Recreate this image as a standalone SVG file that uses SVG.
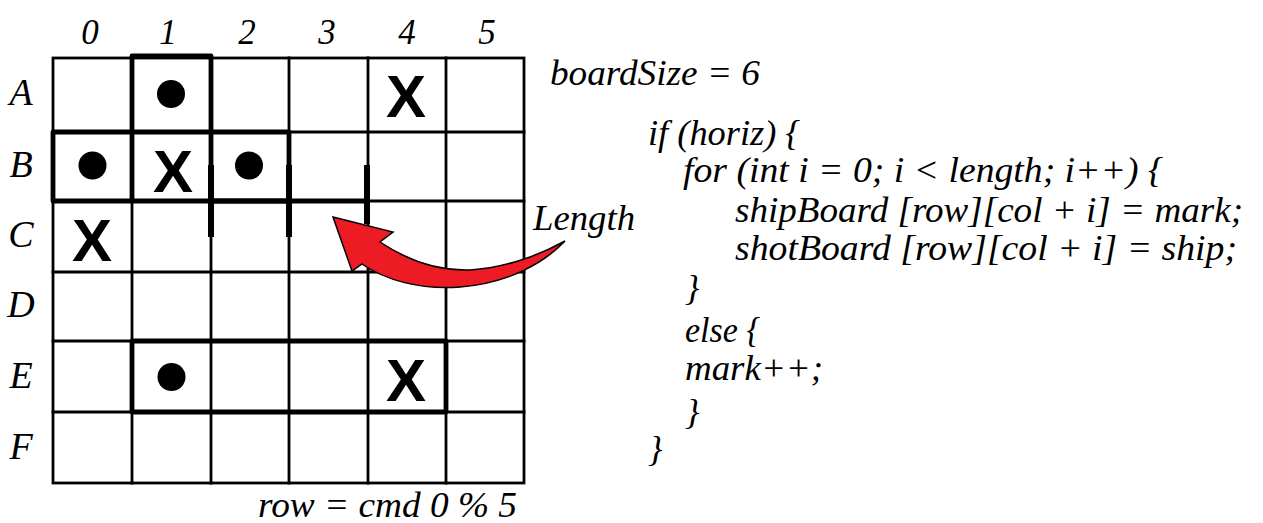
<svg xmlns="http://www.w3.org/2000/svg" width="1263" height="523" viewBox="0 0 1263 523">
<style>
.g{stroke:#000;stroke-width:2.8;fill:none;stroke-linecap:square}
.s{stroke:#000;stroke-width:4.8;fill:none;stroke-linejoin:round}
.t{stroke:#000;stroke-width:6;fill:none}
.x{font-family:'Liberation Sans',Arial,sans-serif;font-weight:bold;font-size:60px;fill:#000;text-anchor:middle}
</style>
<rect width="1263" height="523" fill="#fff"/>
<g id="grid">
<rect class="g" x="53" y="58" width="471" height="425"/>
<path class="g" d="M132,58V483M211,58V483M289,58V483M368,58V483M446,58V483M53,132H524M53,201H524M53,272H524M53,341H524M53,412H524"/>
</g>
<g id="ships">
<path class="s" d="M132,201V56H211V201"/>
<rect class="s" x="53" y="132" width="236" height="69"/>
<rect class="s" x="132" y="341" width="314" height="71"/>
</g>
<g id="length-marker">
<path class="t" d="M211,165V237M289,165V237M367,165V224"/>
<path class="s" d="M211,201H367"/>
</g>
<g id="markers">
<circle cx="171" cy="94" r="14"/>
<circle cx="92.5" cy="165.5" r="14"/>
<circle cx="249" cy="165.5" r="14"/>
<circle cx="171.5" cy="377" r="14"/>
<text class="x" x="406" y="117">X</text>
<text class="x" x="173" y="192">X</text>
<text class="x" x="92" y="261">X</text>
<text class="x" x="406" y="401">X</text>
</g>
<g fill="#000" font-family="'Liberation Serif', 'Times New Roman', serif" font-style="italic">
<g id="col-labels" font-size="35" text-anchor="middle">
<text x="90" y="44">0</text>
<text x="168" y="44">1</text>
<text x="247" y="44">2</text>
<text x="327" y="44">3</text>
<text x="407" y="44">4</text>
<text x="487" y="44">5</text>
</g>
<g id="row-labels" font-size="38" text-anchor="middle">
<text x="21" y="105">A</text>
<text x="21" y="177">B</text>
<text x="21" y="247">C</text>
<text x="21" y="317">D</text>
<text x="21" y="388">E</text>
<text x="21" y="459">F</text>
</g>
<g id="length-label">
<text font-size="35" x="533" y="230" textLength="102" lengthAdjust="spacingAndGlyphs">Length</text>
</g>
<g id="bottom-label">
<text font-size="36" x="258" y="517" textLength="259" lengthAdjust="spacingAndGlyphs">row = cmd 0 % 5</text>
</g>
<g id="code" font-size="36">
<text x="550" y="85" textLength="210" lengthAdjust="spacingAndGlyphs">boardSize = 6</text>
<text x="648" y="145" textLength="152" lengthAdjust="spacingAndGlyphs">if (horiz) {</text>
<text x="683" y="182" textLength="480" lengthAdjust="spacingAndGlyphs">for (int i = 0; i &lt; length; i++) {</text>
<text x="735" y="222" textLength="508" lengthAdjust="spacingAndGlyphs">shipBoard [row][col + i] = mark;</text>
<text x="735" y="260" textLength="502" lengthAdjust="spacingAndGlyphs">shotBoard [row][col + i] = ship;</text>
<text x="685" y="300">}</text>
<text x="685" y="342" textLength="75" lengthAdjust="spacingAndGlyphs">else {</text>
<text x="685" y="380" textLength="138" lengthAdjust="spacingAndGlyphs">mark++;</text>
<text x="685" y="424">}</text>
<text x="648" y="461">}</text>
</g>
</g>
<g id="connectors">
<path d="M333,217 L393,232 L380,242 C410,262 440,271 470,270 C505,268 540,255 565,241 C545,262 510,283 460,287 C420,290 385,280 362,264 L352,271 Z" fill="#ED1C24" stroke="#000" stroke-width="1.5" stroke-linejoin="miter"/>
</g>
</svg>
